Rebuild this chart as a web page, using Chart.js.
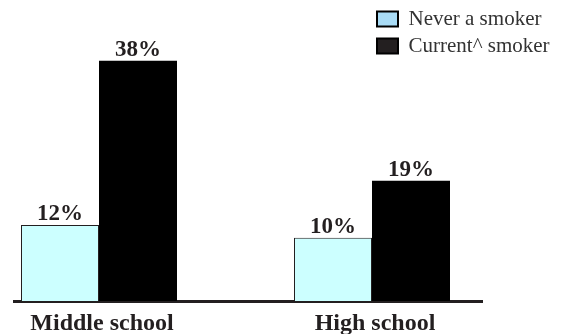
<!DOCTYPE html>
<html>
<head>
<meta charset="utf-8">
<script src="https://cdn.jsdelivr.net/npm/chart.js@4"></script>
<style>
  html, body { margin: 0; padding: 0; background: #fff; }
  canvas { display: block; }
</style>
</head>
<body>
<canvas id="chart" width="564" height="334"></canvas>
<script>
// School levels and smoking status shares (%)
const categories = ['Middle school', 'High school'];
const seriesNames = ['Never a smoker', 'Current^ smoker'];
const neverSmoker = [12, 10];
const currentSmoker = [38, 19];

const SERIF = "'Liberation Serif', 'Times New Roman', serif";
const BAR_COLORS = ['#ccffff', '#000000'];
const LEGEND_COLORS = ['#a9dcf6', '#231f20'];

// Draws "NN%" above each bar, using the bar's own value
const valueLabels = {
  id: 'valueLabels',
  afterDatasetsDraw(chart) {
    const ctx = chart.ctx;
    ctx.save();
    ctx.font = 'bold 23px ' + SERIF;
    ctx.fillStyle = '#231f20';
    ctx.textAlign = 'center';
    ctx.textBaseline = 'alphabetic';
    chart.data.datasets.forEach((ds, i) => {
      chart.getDatasetMeta(i).data.forEach((bar, j) => {
        ctx.fillText(ds.data[j].y + '%', bar.x, bar.y - 5);
      });
    });
    ctx.restore();
  }
};

// Moves the legend box to the upper right corner, over the plot
const legendPlacement = {
  id: 'legendPlacement',
  afterLayout(chart) {
    const lg = chart.legend;
    if (!lg) return;
    const pad = lg.options.labels.padding;
    lg.left = 377 - pad;
    lg.top = 8.5 - pad;
    lg.right = lg.left + lg.width;
    lg.bottom = lg.top + 200;
  }
};

const toPoints = (values) => values.map((v, i) => ({ x: i, y: v }));

new Chart(document.getElementById('chart'), {
  type: 'bar',
  data: {
    datasets: [
      {
        label: seriesNames[0],
        data: toPoints(neverSmoker),
        backgroundColor: BAR_COLORS[0],
        borderColor: '#231f20',
        borderWidth: 1
      },
      {
        label: seriesNames[1],
        data: toPoints(currentSmoker),
        backgroundColor: BAR_COLORS[1],
        borderWidth: 0
      }
    ]
  },
  options: {
    responsive: false,
    animation: false,
    devicePixelRatio: 1,
    categoryPercentage: 156 / 273,
    barPercentage: 1,
    layout: { padding: { top: 48, left: 14, right: 82, bottom: 0 } },
    plugins: {
      tooltip: { enabled: false },
      legend: {
        position: 'chartArea',
        align: 'start',
        labels: {
          font: { family: SERIF, size: 21 },
          color: '#333333',
          boxWidth: 21,
          boxHeight: 15,
          padding: 6,
          generateLabels(chart) {
            return chart.data.datasets.map((ds, i) => ({
              text: ds.label,
              fillStyle: LEGEND_COLORS[i],
              strokeStyle: '#000000',
              lineWidth: 2,
              fontColor: '#333333',
              datasetIndex: i
            }));
          }
        }
      }
    },
    scales: {
      x: {
        type: 'linear',
        offset: false,
        min: -85 / 273,
        max: 1 + 110 / 273,
        afterBuildTicks(scale) {
          scale.ticks = categories.map((_, i) => ({ value: i }));
        },
        afterFit(scale) { scale.height = 33; },
        grid: { display: false, drawTicks: false },
        border: { display: true, color: '#231f20', width: 3 },
        ticks: {
          padding: 8,
          labelOffset: 3,
          autoSkip: false,
          maxRotation: 0,
          color: '#231f20',
          font: { family: SERIF, size: 24, weight: 'bold' },
          callback: (value) => categories[value] ?? ''
        }
      },
      y: {
        display: false,
        min: 0,
        max: 40
      }
    }
  },
  plugins: [valueLabels, legendPlacement]
});
</script>
</body>
</html>
